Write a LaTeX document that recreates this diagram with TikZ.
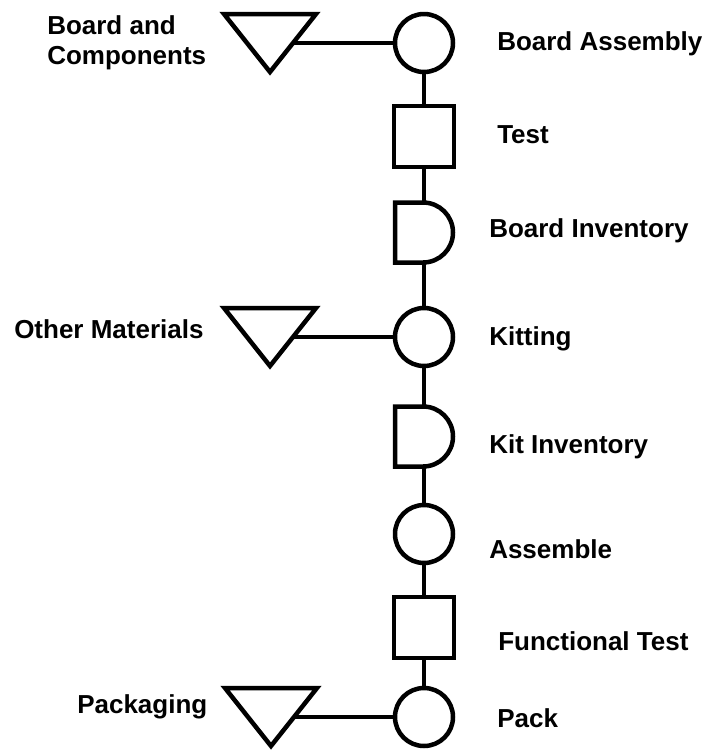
\documentclass[tikz,border=0pt]{standalone}
\usepackage{fontspec}
\setmainfont{Liberation Sans}
\usetikzlibrary{calc}

\begin{document}
\begin{tikzpicture}[x=1pt, y=-1pt, line width=4.5pt,
  every node/.style={font=\fontsize{26}{30}\selectfont\bfseries, inner sep=0pt},
  op/.style={circle, draw, minimum size=58pt},
  check/.style={rectangle, draw, minimum width=60pt, minimum height=61pt},
  store/.style={rectangle, minimum width=58pt, minimum height=60pt, outer sep=0pt},
  supply/.style={line join=miter},
  flow/.style={line cap=butt}]
\useasboundingbox (0,0) rectangle (705,753);

% process column
\node[op] (brd) at (424,43) {};
\node[check] (tst) at (424,136.5) {};
\node[store] (binv) at (424,232.5) {};
\node[op] (kit) at (424,337) {};
\node[store] (kinv) at (424,436.5) {};
\node[op] (asm) at (424,534) {};
\node[check] (ftst) at (424,627.5) {};
\node[op] (pck) at (424,717) {};

\draw (binv.north west) -- ++(28,0) arc (-90:90:30) -- (binv.south west) -- cycle;
\draw (kinv.north west) -- ++(28,0) arc (-90:90:30) -- (kinv.south west) -- cycle;

% incoming material
\coordinate (bc) at (270,43);
\coordinate (om) at (270,337);
\coordinate (pk) at (271,717);
\draw[supply] (bc) +(-46,-29) -- +(46,-29) -- +(0,29) -- cycle;
\draw[supply] (om) +(-46,-29) -- +(46,-29) -- +(0,29) -- cycle;
\draw[supply] (pk) +(-46,-29) -- +(46,-29) -- +(0,29) -- cycle;
\coordinate (bc-r) at (293,43);
\coordinate (om-r) at (293,337);
\coordinate (pk-r) at (294,717);

\draw[flow] (bc-r) -- (brd);
\draw[flow] (om-r) -- (kit);
\draw[flow] (pk-r) -- (pck);
\draw[flow] (brd) -- (tst);
\draw[flow] (tst) -- (binv);
\draw[flow] (binv) -- (kit);
\draw[flow] (kit) -- (kinv);
\draw[flow] (kinv) -- (asm);
\draw[flow] (asm) -- (ftst);
\draw[flow] (ftst) -- (pck);

% labels
\node[anchor=base west] (l-brd) at (495,50) {Board Assembly};
\node[anchor=base west] (l-tst) at (495,143) {Test};
\node[anchor=base west] (l-binv) at (487,237) {Board Inventory};
\node[anchor=base west] (l-kit) at (487,345) {Kitting};
\node[anchor=base west] (l-kinv) at (487,453) {Kit Inventory};
\node[anchor=base west] (l-asm) at (487,558) {Assemble};
\node[anchor=base west] (l-ftst) at (496,650) {Functional Test};
\node[anchor=base west] (l-pck) at (495,727) {Pack};
\node[anchor=west, align=left] (l-bc) at (45,43) {Board and\\Components};
\node[anchor=base west] (l-om) at (12,338) {Other Materials};
\node[anchor=base west] (l-pk) at (75,713) {Packaging};
\end{tikzpicture}
\end{document}
